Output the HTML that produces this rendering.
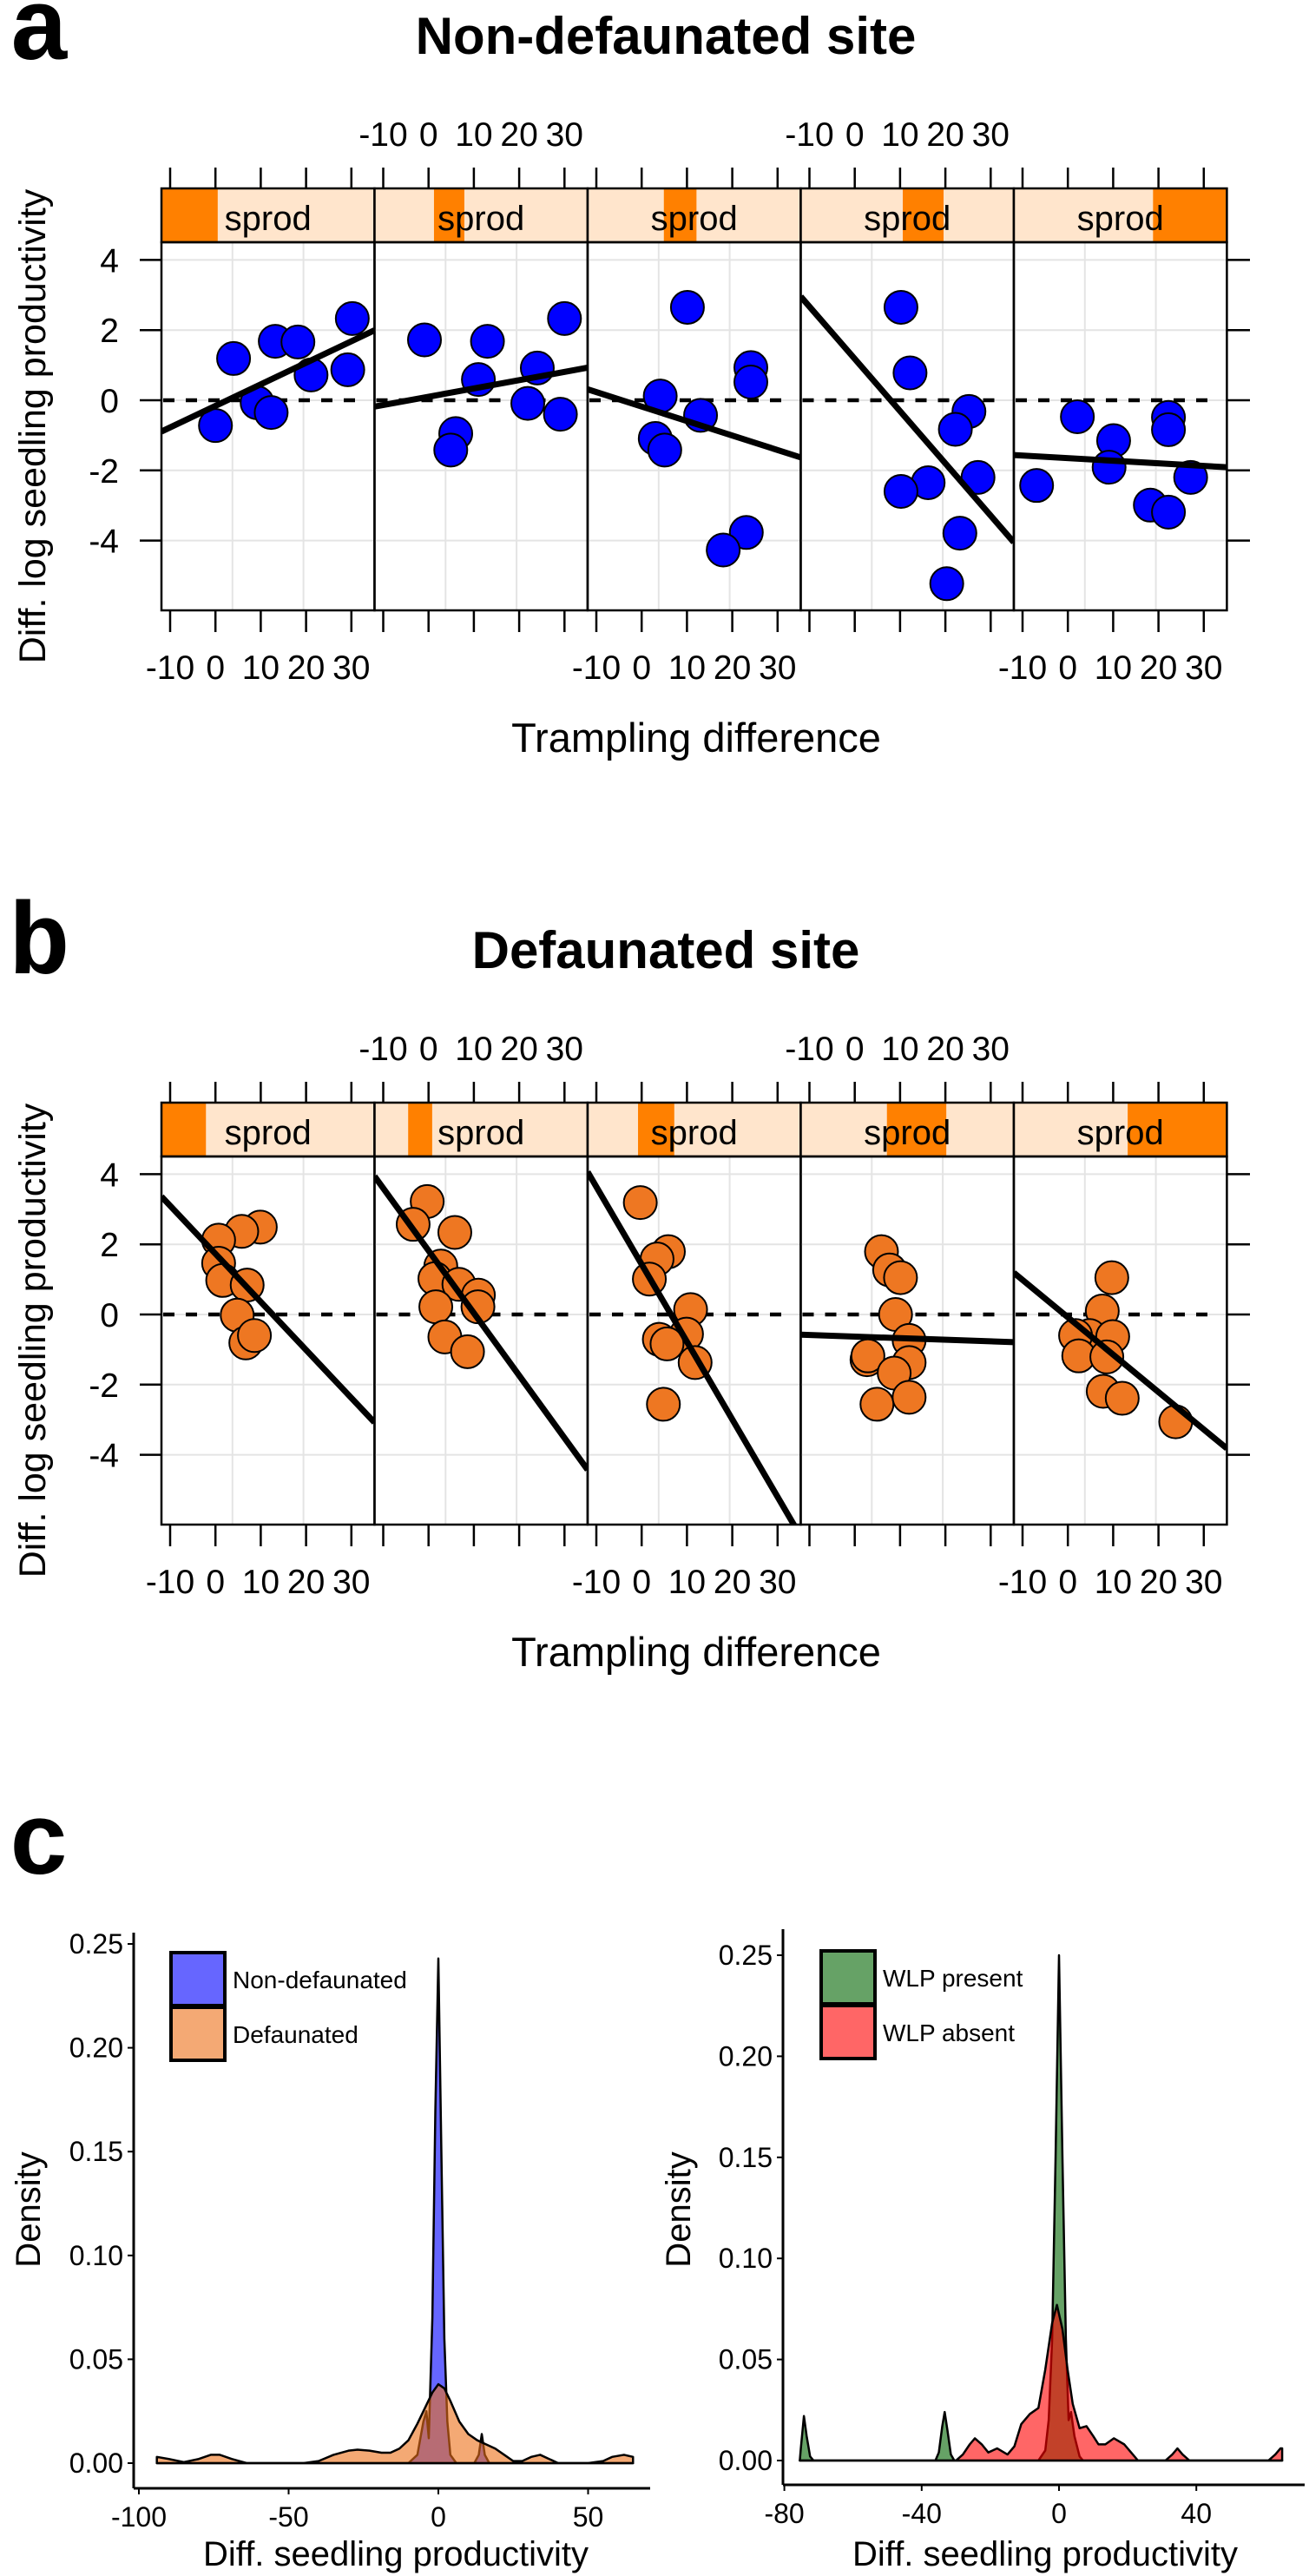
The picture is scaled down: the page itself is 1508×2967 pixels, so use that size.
<!DOCTYPE html>
<html><head><meta charset="utf-8"><style>
html,body{margin:0;padding:0;background:#fff}
svg{display:block}
text{font-family:"Liberation Sans",sans-serif;fill:#000}
</style></head><body>
<svg id="fig" width="1508" height="2967" viewBox="0 0 1508 2967" xmlns="http://www.w3.org/2000/svg">
<text x="10" y="68" style="font-family:'Liberation Mono',monospace;font-weight:bold;font-size:118px">a</text>
<text x="767" y="62" text-anchor="middle" style="font-weight:bold;font-size:60px">Non-defaunated site</text>
<text x="10" y="1121" style="font-family:'Liberation Mono',monospace;font-weight:bold;font-size:118px">b</text>
<text x="767" y="1115" text-anchor="middle" style="font-weight:bold;font-size:60px">Defaunated site</text>
<text x="10" y="2158" style="font-family:'Liberation Mono',monospace;font-weight:bold;font-size:118px">c</text>
<g id="gA"></g><g id="gB"></g><g id="gC1"></g><g id="gC2"></g>
</svg>
<script>
// ---------- Panel a data (Non-defaunated) ----------
const aX1=[0,4.0,9.2,12.3,13.2,18.2,21.1,29.2,30.2];
const aY1=[-0.72,1.19,-0.07,-0.35,1.68,1.66,0.72,0.87,2.33];
const aX2=[-0.9,13.0,11.0,24.0,30.0,21.9,29.1,6.0,4.9];
const aY2=[1.72,1.68,0.59,0.92,2.33,-0.09,-0.40,-0.95,-1.42];
const aX3=[10.1,24.1,24.1,4.1,13.0,3.0,5.1,23.1,18.0];
const aY3=[2.65,0.93,0.52,0.12,-0.43,-1.09,-1.42,-3.77,-4.27];
const aX4=[10.2,12.2,25.2,22.2,16.2,10.2,27.2,23.2,20.3];
const aY4=[2.65,0.78,-0.32,-0.83,-2.35,-2.60,-2.20,-3.79,-5.23];
const aX5=[2.1,10.1,9.1,-6.9,22.2,22.2,27.1,18.2,22.2];
const aY5=[-0.47,-1.15,-1.91,-2.43,-0.49,-0.84,-2.20,-2.99,-3.19];
const aIntercepts=[-0.16,0.10,-0.18,1.18,-1.65];
const aSlopes=[0.0614,0.0236,-0.0413,-0.149,-0.0074];
const aShLo=[-11.9,1.2,4.9,10.6,18.8];
const aShHi=[0.5,7.9,12.1,19.6,35.2];
// ---------- Panel b data (Defaunated) ----------
const bX1=[9.9,5.8,0.7,0.7,1.6,7.0,4.8,6.7,8.6];
const bY1=[2.49,2.37,2.12,1.46,0.97,0.84,-0.02,-0.81,-0.60];
const bX2=[-0.3,-3.4,5.8,2.7,1.4,6.7,11.0,10.9,1.6,3.6,8.6];
const bY2=[3.22,2.57,2.34,1.38,1.02,0.86,0.55,0.22,0.22,-0.64,-1.06];
const bX3=[-0.3,5.9,3.4,1.7,10.8,9.9,3.9,5.6,11.8,4.8];
const bY3=[3.19,1.79,1.58,1.01,0.14,-0.56,-0.71,-0.84,-1.37,-2.56];
const bX4=[5.9,7.7,10.1,9.0,12.0,2.7,2.9,12.0,8.7,4.9,12.0];
const bY4=[1.79,1.27,1.05,0.0,-0.74,-1.29,-1.18,-1.37,-1.67,-2.56,-2.36];
const bX5=[9.7,7.6,4.8,9.9,1.7,2.4,8.6,7.8,12.0,23.8];
const bY5=[1.05,0.10,-0.6,-0.63,-0.60,-1.18,-1.21,-2.19,-2.39,-3.06];
const bIntercepts=[1.73,1.82,1.43,-0.63,-0.08];
const bSlopes=[-0.137,-0.178,-0.221,-0.0045,-0.1066];
const bShLo=[-11.9,-4.5,-0.8,7.1,13.2];
const bShHi=[-2.1,0.8,7.2,20.2,35.2];
// ---------- Panel c data ----------
const c1TickX=[-100,-50,0,50];
const c1TickY=[0,0.05,0.10,0.15,0.20,0.25];
const nonDefX=[-94,-10,-7,-5,-4,-3.2,-2,-1,0,1,2,3,4,6,12,13.5,14.5,15.5,17,65];
const nonDefY=[0,0,0.004,0.02,0.025,0.012,0.07,0.17,0.243,0.15,0.06,0.02,0.004,0,0,0.004,0.014,0.004,0,0];
const defX=[-94,-90,-85,-80,-76,-73,-69,-64,-55,-45,-40,-35,-30,-27,-23,-19,-16,-13,-10,-7,-4,-2,0,2,4,7,10,13,16,19,22,25,28,31,34,37,40,45,50,55,58,62,65];
const defY=[0.003,0.002,0.0005,0.002,0.004,0.004,0.002,0,0,0,0.001,0.004,0.006,0.0065,0.006,0.005,0.005,0.007,0.011,0.019,0.028,0.034,0.038,0.036,0.03,0.02,0.014,0.011,0.009,0.007,0.004,0.001,0.001,0.003,0.004,0.002,0,0,0,0.001,0.003,0.004,0.003];
const c2TickX=[-80,-40,0,40];
const c2TickY=[0,0.05,0.10,0.15,0.20,0.25];
const wlpPresX=[-75.5,-75.2,-74.3,-73.5,-72.5,-71.5,-36,-35,-34,-33.3,-32.5,-31.5,-30.5,-6,-4,-3,-2,-1,0,1,2,2.8,3.5,4.5,6,7,65];
const wlpPresY=[0,0.006,0.022,0.012,0.002,0,0,0.004,0.017,0.024,0.015,0.003,0,0,0.005,0.02,0.06,0.15,0.25,0.15,0.06,0.02,0.024,0.012,0.002,0,0];
const wlpAbsX=[-75.5,-30,-28,-26,-24.5,-22.5,-20.6,-18,-15,-13,-11,-8.5,-6,-4,-2,-0.6,1,2.5,4,6,8,10,11.5,13.5,16,19,21,23,31,33,34.5,36,38,61,63,64.5,65];
const wlpAbsY=[0,0,0.003,0.008,0.011,0.008,0.004,0.006,0.003,0.007,0.018,0.023,0.026,0.045,0.068,0.077,0.065,0.045,0.028,0.016,0.017,0.012,0.008,0.008,0.011,0.008,0.004,0,0,0.003,0.006,0.003,0,0,0.003,0.006,0.006];
const yTicksLattice=[-4,-2,0,2,4];
const xTicksLattice=[-10,0,10,20,30];

const NS="http://www.w3.org/2000/svg";
function mk(tag,attrs,parent){const e=document.createElementNS(NS,tag);for(const k in attrs)e.setAttribute(k,attrs[k]);parent.appendChild(e);return e;}

const PL=[186,431.5,677,922.5,1168], PW=245.4;
function lattice(g,oy,xs,ys,ints,slopes,shLo,shHi,fill,prefix){
  const y0=461+oy, pxU=40.4, stripTop=217+oy, stripBot=279+oy, bot=703+oy;
  const sy=v=>y0-v*pxU;
  const sx=(i,v)=>PL[i]+10+(v+10)*5.22;
  const xmin=-11.92, xmax=xmin+PW/5.22;
  for(let i=0;i<5;i++){
    const L=PL[i],R=L+PW;
    const cp=mk('clipPath',{id:prefix+'clip'+i},g);
    mk('rect',{x:L,y:stripBot,width:PW,height:bot-stripBot},cp);
    const pg=mk('g',{},g);
    
    
    for(const t of yTicksLattice){mk('line',{x1:L,x2:R,y1:sy(t),y2:sy(t),stroke:'#e4e4e4','stroke-width':2},pg);}
    for(const f of [1,2]){mk('line',{x1:L+PW*f/3,x2:L+PW*f/3,y1:stripBot,y2:bot,stroke:'#e4e4e4','stroke-width':2},pg);}
    const zl=mk('line',{x1:L+2,x2:R-12,y1:sy(0),y2:sy(0),stroke:'#000','stroke-width':4.5,'stroke-dasharray':'13 13'},pg);
    
    
    for(let k=0;k<xs[i].length;k++){
      const c=mk('circle',{cx:sx(i,xs[i][k]),cy:sy(ys[i][k]),r:19,fill:fill,stroke:'#000','stroke-width':2},pg);
      
      
    }
    const rl=mk('line',{x1:sx(i,xmin),x2:sx(i,xmax),y1:sy(ints[i]+slopes[i]*xmin),y2:sy(ints[i]+slopes[i]*xmax),stroke:'#000','stroke-width':7,'clip-path':'url(#'+prefix+'clip'+i+')'},pg);
    
    
    mk('rect',{x:L,y:stripTop,width:PW,height:stripBot-stripTop,fill:'#FFE5CC'},pg);
    const a=Math.max(L,sx(i,shLo[i])), b=Math.min(R,sx(i,shHi[i]));
    const sh=mk('rect',{x:a,y:stripTop,width:Math.max(0,b-a),height:stripBot-stripTop,fill:'#FF8000'},pg);
    
    
    const st=mk('text',{x:L+PW/2,y:stripBot-14,'text-anchor':'middle','font-size':40},pg);
    st.textContent='sprod';
    
    
    mk('rect',{x:L,y:stripTop,width:PW,height:stripBot-stripTop,fill:'none',stroke:'#000','stroke-width':2.5},pg);
    mk('rect',{x:L,y:stripBot,width:PW,height:bot-stripBot,fill:'none',stroke:'#000','stroke-width':2.5},pg);
    for(const t of xTicksLattice){
      const x=sx(i,t);
      mk('line',{x1:x,x2:x,y1:stripTop-24,y2:stripTop,stroke:'#000','stroke-width':2.5},pg);
      mk('line',{x1:x,x2:x,y1:bot,y2:bot+25,stroke:'#000','stroke-width':2.5},pg);
      const lab=mk('text',{x:x,'text-anchor':'middle','font-size':39,y:(i%2==0)?bot+79:stripTop-49},pg);
      lab.textContent=String(t);
      
      
    }
  }
  for(const t of yTicksLattice){
    mk('line',{x1:161,x2:186,y1:sy(t),y2:sy(t),stroke:'#000','stroke-width':2.5},g);
    mk('line',{x1:1413,x2:1440,y1:sy(t),y2:sy(t),stroke:'#000','stroke-width':2.5},g);
    const yl=mk('text',{x:137,y:sy(t)+14,'text-anchor':'end','font-size':39},g);
    yl.textContent=String(t);
    
    
  }
  const yt=mk('text',{x:0,y:0,'text-anchor':'middle','font-size':43,transform:'translate(52,'+(491+oy)+') rotate(-90)'},g);
  yt.textContent='Diff. log seedling productivity';
  
  
  const xt=mk('text',{x:802,y:866+oy,'text-anchor':'middle','font-size':47},g);
  xt.textContent='Trampling difference';
  
  
}
lattice(document.getElementById('gA'),0,[aX1,aX2,aX3,aX4,aX5],[aY1,aY2,aY3,aY4,aY5],aIntercepts,aSlopes,aShLo,aShHi,'#0000FF','a');
lattice(document.getElementById('gB'),1053,[bX1,bX2,bX3,bX4,bX5],[bY1,bY2,bY3,bY4,bY5],bIntercepts,bSlopes,bShLo,bShHi,'#EE7722','b');

function density(g,cfg){
  const sx=v=>cfg.x0+v*cfg.kx, sy=v=>cfg.y0-v*cfg.ky;
  cfg.series.forEach(s=>{
    let d='M'+sx(s.x[0])+','+sy(0);
    for(let k=0;k<s.x.length;k++) d+=' L'+sx(s.x[k])+','+sy(s.y[k]);
    d+=' L'+sx(s.x[s.x.length-1])+','+sy(0)+' Z';
    const p=mk('path',{d:d,fill:s.color,'fill-opacity':0.6,stroke:'#000','stroke-width':2.5,'stroke-linejoin':'round'},g);
    
    
  });
  mk('line',{x1:cfg.ax,x2:cfg.ax,y1:cfg.top,y2:cfg.bottom,stroke:'#000','stroke-width':3},g);
  mk('line',{x1:cfg.ax,x2:cfg.right,y1:cfg.bottom,y2:cfg.bottom,stroke:'#000','stroke-width':3},g);
  cfg.ticksY.forEach(t=>{
    mk('line',{x1:cfg.ax-7,x2:cfg.ax,y1:sy(t),y2:sy(t),stroke:'#000','stroke-width':2},g);
    const l=mk('text',{x:cfg.ax-12,y:sy(t)+11,'text-anchor':'end','font-size':32},g);
    l.textContent=t.toFixed(2);
    
    
  });
  cfg.ticksX.forEach(t=>{
    mk('line',{x1:sx(t),x2:sx(t),y1:cfg.bottom,y2:cfg.bottom+7,stroke:'#000','stroke-width':2},g);
    const l=mk('text',{x:sx(t),y:cfg.bottom+44,'text-anchor':'middle','font-size':32},g);
    l.textContent=String(t);
    
    
  });
  const xt=mk('text',{x:cfg.titleX,y:2955,'text-anchor':'middle','font-size':40},g);
  xt.textContent='Diff. seedling productivity';
  
  
  const yt=mk('text',{x:0,y:0,'text-anchor':'middle','font-size':40,transform:'translate('+cfg.ytX+',2545) rotate(-90)'},g);
  yt.textContent='Density';
  
  
  cfg.series.forEach((s,i)=>{
    const ky=cfg.legY+i*63;
    const r=mk('rect',{x:cfg.legX,y:ky,width:62,height:61,fill:s.color,'fill-opacity':0.6,stroke:'#000','stroke-width':4},g);
    
    
    const t=mk('text',{x:cfg.legX+71,y:ky+41,'font-size':28},g);
    t.textContent=s.label;
    
    
  });
}
density(document.getElementById('gC1'),{x0:505,kx:3.45,y0:2837,ky:2392,ax:154,top:2226,bottom:2866,right:749,
  ticksX:c1TickX,ticksY:c1TickY,titleX:456,ytX:46,legX:197,legY:2249,
  series:[{x:nonDefX,y:nonDefY,color:'#0000FF',name:'non-defaunated',label:'Non-defaunated'},
          {x:defX,y:defY,color:'#EC7018',name:'defaunated',label:'Defaunated'}]});
density(document.getElementById('gC2'),{x0:1220,kx:3.955,y0:2834,ky:2328,ax:902,top:2222,bottom:2862,right:1503,
  ticksX:c2TickX,ticksY:c2TickY,titleX:1204,ytX:795,legX:946,legY:2247,
  series:[{x:wlpPresX,y:wlpPresY,color:'#006400',name:'wlp-present',label:'WLP present'},
          {x:wlpAbsX,y:wlpAbsY,color:'#FF0000',name:'wlp-absent',label:'WLP absent'}]});
</script>
</body></html>
